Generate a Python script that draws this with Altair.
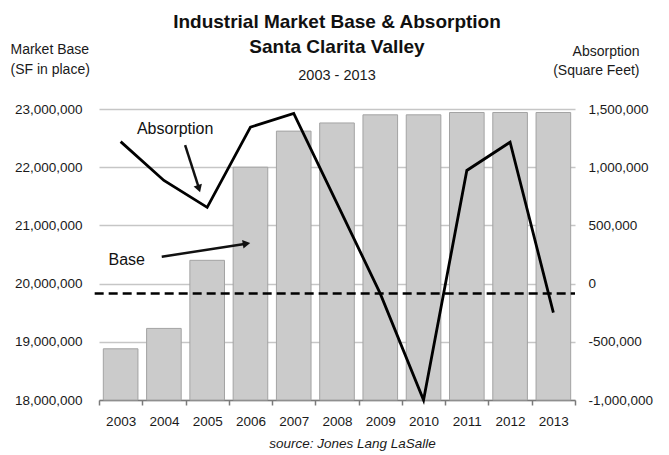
import altair as alt
import pandas as pd

# ---- data ----
years = [2003, 2004, 2005, 2006, 2007, 2008, 2009, 2010, 2011, 2012, 2013]
market_base = [18_880_000, 19_230_000, 20_400_000, 22_000_000, 22_620_000, 22_760_000,
               22_900_000, 22_900_000, 22_940_000, 22_940_000, 22_940_000]
absorption = [1_220_000, 886_000, 655_000, 1_344_000, 1_462_000, 690_000,
              -86_000, -1_000_000, 972_000, 1_215_000, -249_000]
reference_line_value = -85_000  # dashed horizontal line (right scale)

base_ticks = [18_000_000, 19_000_000, 20_000_000, 21_000_000, 22_000_000, 23_000_000]
abs_ticks = [-1_000_000, -500_000, 0, 500_000, 1_000_000, 1_500_000]
x_ticks = [2002.5 + i * 0.5 for i in range(23)]

# annotation positions in data space (x: year, y: market base scale)
ann_text = ["Absorption", "Base"]
ann_x = [2004.26, 2003.14]
ann_y = [22_660_000, 20_400_000]
arrow_x = [2004.49, 2003.95]
arrow_y = [22_381_000, 20_462_000]
arrow_x2 = [2004.80, 2005.90]
arrow_y2 = [21_660_000, 20_685_000]
head_x = [2004.80, 2005.88]
head_y = [21_650_000, 20_683_000]
head_angle = [162, 81]

FONT = "Liberation Sans"
LABEL_EXPR = "replace(format(datum.value, ','), '\u2212', '-')"

df = pd.DataFrame({"year": years, "base": market_base, "absorption": absorption})
df["x0"] = df["year"] - 0.4
df["x1"] = df["year"] + 0.4

ann = pd.DataFrame({"text": ann_text, "x": ann_x, "y": ann_y})
arrows = pd.DataFrame({"x": arrow_x, "y": arrow_y, "x2": arrow_x2, "y2": arrow_y2})
heads = pd.DataFrame({"x": head_x, "y": head_y, "angle": head_angle})
ref = pd.DataFrame({"v": [reference_line_value], "xa": [2002.4], "xb": [2013.5]})

xscale = alt.Scale(domain=[2002.5, 2013.5], nice=False, zero=False)
yleft = alt.Scale(domain=[18_000_000, 23_000_000], nice=False, zero=False)
yright = alt.Scale(domain=[-1_000_000, 1_500_000], nice=False, zero=False)

x_axis = alt.Axis(
    values=x_ticks,
    labelExpr="datum.value % 1 == 0 ? datum.value : ''",
    tickOpacity={"condition": {"test": "datum.value % 1 != 0", "value": 1}, "value": 0},
    grid=False, tickSize=5, tickColor="#7a7a7a", tickWidth=1.5,
    domainColor="#7a7a7a", domainWidth=1.5,
    labelFont=FONT, labelFontSize=13.5, labelColor="#1a1a1a", labelPadding=9,
    labelOverlap=False, labelFlush=False,
    title="source: Jones Lang LaSalle", titleFont=FONT, titleFontSize=13.5,
    titleFontStyle="italic", titleFontWeight="normal", titleColor="#1a1a1a",
    titleX=253, titleY=43, titleBaseline="middle", titleAlign="center",
)

left_axis = alt.Axis(
    values=base_ticks, labelExpr=LABEL_EXPR,
    grid=True, gridColor="#c6c6c6", gridWidth=1.5,
    domain=False, ticks=False, labelPadding=17,
    labelFont=FONT, labelFontSize=13.5, labelColor="#1a1a1a",
    title=["Market Base", "(SF in place)"], titleFont=FONT, titleFontSize=14,
    titleFontWeight="normal", titleColor="#1a1a1a", titleAngle=0,
    titleAlign="left", titleBaseline="alphabetic", titleX=-89, titleY=-56,
    titleLineHeight=20,
)

right_axis = alt.Axis(
    orient="right", values=abs_ticks, labelExpr=LABEL_EXPR, grid=False,
    domain=False, ticks=False, labelPadding=13,
    labelFont=FONT, labelFontSize=13.5, labelColor="#1a1a1a",
    title=["Absorption", "(Square Feet)"], titleFont=FONT, titleFontSize=14,
    titleFontWeight="normal", titleColor="#1a1a1a", titleAngle=0,
    titleAlign="right", titleBaseline="alphabetic", titleX=64, titleY=-54,
    titleLineHeight=19,
)

bars = alt.Chart(df).mark_bar(color="#cbcbcb", stroke="#a3a3a3", strokeWidth=1).encode(
    x=alt.X("x0:Q", scale=xscale, axis=x_axis),
    x2="x1",
    y=alt.Y("base:Q", scale=yleft, axis=left_axis),
    y2=alt.datum(18_000_000),
)

ann_text_layer = alt.Chart(ann).mark_text(
    font=FONT, fontSize=16, color="#111111", baseline="middle", align="center"
).encode(
    x=alt.X("x:Q", scale=xscale, axis=x_axis),
    y=alt.Y("y:Q", scale=yleft, axis=left_axis),
    text="text:N",
)

arrow_lines = alt.Chart(arrows).mark_rule(color="#111111", strokeWidth=2.5).encode(
    x=alt.X("x:Q", scale=xscale, axis=x_axis),
    y=alt.Y("y:Q", scale=yleft, axis=left_axis),
    x2="x2:Q",
    y2="y2:Q",
)

arrow_heads = alt.Chart(heads).mark_point(
    shape="triangle", filled=True, color="#111111", size=75, opacity=1
).encode(
    x=alt.X("x:Q", scale=xscale, axis=x_axis),
    y=alt.Y("y:Q", scale=yleft, axis=left_axis),
    angle=alt.Angle("angle:Q", scale=None),
)

left_layer = alt.layer(bars, ann_text_layer, arrow_lines, arrow_heads)

line = alt.Chart(df).mark_line(color="#000000", strokeWidth=2.8).encode(
    x=alt.X("year:Q", scale=xscale, axis=x_axis),
    y=alt.Y("absorption:Q", scale=yright, axis=right_axis),
)

dashed = alt.Chart(ref).mark_rule(color="#000000", strokeWidth=2.5, strokeDash=[9, 5]).encode(
    x=alt.X("xa:Q", scale=xscale, axis=x_axis),
    x2="xb:Q",
    y=alt.Y("v:Q", scale=yright, axis=right_axis),
)

right_layer = alt.layer(dashed, line)

chart = alt.layer(left_layer, right_layer).resolve_scale(y="independent").properties(
    width=476, height=291,
    autosize=alt.AutoSizeParams(type="none"),
    padding={"left": 99, "top": 109, "right": 94, "bottom": 55},
    background="white",
    title=alt.TitleParams(
        text=["Industrial Market Base & Absorption", "Santa Clarita Valley"],
        subtitle="2003 - 2013",
        anchor="middle", frame="group",
        font=FONT, fontSize=19, fontWeight="bold", color="#111111", lineHeight=25,
        subtitleFont=FONT, subtitleFontSize=14.5, subtitleColor="#1a1a1a",
        subtitlePadding=12, offset=-40,
    ),
).configure_view(stroke=None)

chart.save("out.html", embed_options={"renderer": "svg", "actions": False})
